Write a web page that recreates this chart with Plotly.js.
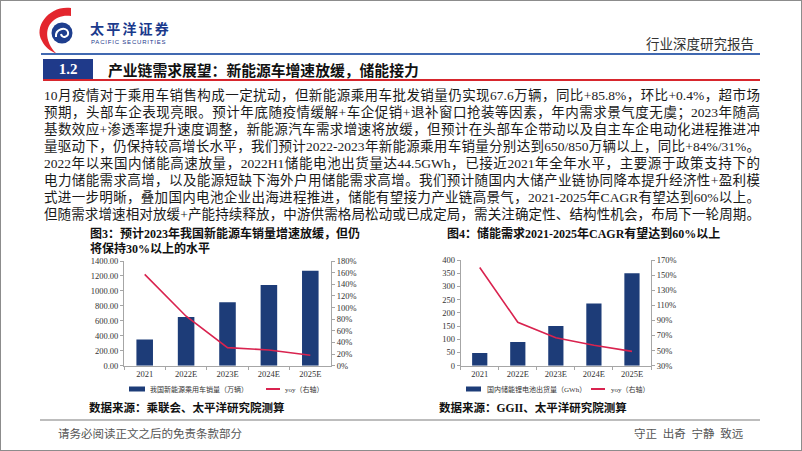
<!DOCTYPE html>
<html><head><meta charset="utf-8">
<script src="https://cdn.plot.ly/plotly-3.0.1.min.js"></script>
<style>
html,body{margin:0;padding:0;background:#fff;}
#page{position:relative;width:802px;height:451px;overflow:hidden;background:#fff;}
#chart{position:absolute;left:0;top:0;width:802px;height:451px;}
.t{position:absolute;white-space:nowrap;font-family:"Liberation Serif","Noto Sans CJK SC",serif;color:#1a1a1a;pointer-events:none;}
.p{position:absolute;left:44px;width:716px;height:17px;line-height:17px;font-size:13.5px;text-align:justify;text-align-last:justify;font-family:"Liberation Serif","Noto Sans CJK SC",serif;color:#1a1a1a;pointer-events:none;}
.ln{position:absolute;pointer-events:none;}
</style></head>
<body>
<div id="page">
<div id="chart"></div>

<svg class="ln" style="left:0;top:0" width="120" height="60">
  <path d="M71,8 C50,5 33,26 42,41 C45,47 50,51 57,54 C47,45 44,31 51,23 C56,17 63,15 71,16 Z" fill="#e3262e"/>
  <circle cx="62" cy="33" r="10.5" fill="#1e3e8e"/>
  <path d="M56,37 C55,29 66,26 68,32 C69,37 62,39 61,34" stroke="#fff" stroke-width="2" fill="none"/>
</svg>
<div class="t" style="left:90px;top:20.5px;font-size:14px;line-height:14px;height:14px;letter-spacing:2.2px;font-weight:bold;color:#1b3a8c;font-family:'Noto Sans CJK SC',sans-serif;">太平洋证券</div>
<div class="t" style="left:91px;top:38.5px;font-size:6px;line-height:6px;height:6px;color:#1b3a8c;letter-spacing:0.8px;font-family:'Liberation Sans',sans-serif;">PACIFIC SECURITIES</div>
<div class="t" style="left:646px;top:34px;font-size:13.5px;line-height:18px;color:#333;font-family:'Noto Sans CJK SC',sans-serif;">行业深度研究报告</div>

<div class="ln" style="left:41px;top:53px;width:719px;height:2px;background:#4169b1;"></div>
<div class="ln" style="left:43px;top:59px;width:50px;height:20px;background:#1f3a8a;"></div>
<div class="ln" style="left:43px;top:79px;width:717px;height:2px;background:#d7262d;"></div>
<div class="t" style="left:43px;top:59px;width:50px;text-align:center;font-size:15px;line-height:20px;font-weight:bold;color:#fff;">1.2</div>
<div class="t" style="left:108px;top:60px;font-size:14.8px;line-height:20px;font-weight:bold;color:#111;font-family:'Noto Sans CJK SC',sans-serif;">产业链需求展望：新能源车增速放缓，储能接力</div>

<div class="p" style="top:86.5px;">10月疫情对于乘用车销售构成一定扰动，但新能源乘用车批发销量仍实现67.6万辆，同比+85.8%，环比+0.4%，超市场</div>
<div class="p" style="top:103.5px;">预期，头部车企表现亮眼。预计年底随疫情缓解+车企促销+退补窗口抢装等因素，年内需求景气度无虞；2023年随高</div>
<div class="p" style="top:120.5px;">基数效应+渗透率提升速度调整，新能源汽车需求增速将放缓，但预计在头部车企带动以及自主车企电动化进程推进冲</div>
<div class="p" style="top:137.5px;">量驱动下，仍保持较高增长水平，我们预计2022-2023年新能源乘用车销量分别达到650/850万辆以上，同比+84%/31%。</div>
<div class="p" style="top:154.5px;">2022年以来国内储能高速放量，2022H1储能电池出货量达44.5GWh，已接近2021年全年水平，主要源于政策支持下的</div>
<div class="p" style="top:171.5px;">电力储能需求高增，以及能源短缺下海外户用储能需求高增。我们预计随国内大储产业链协同降本提升经济性+盈利模</div>
<div class="p" style="top:188.5px;">式进一步明晰，叠加国内电池企业出海进程推进，储能有望接力产业链高景气，2021-2025年CAGR有望达到60%以上。</div>
<div class="p" style="top:205.5px;">但随需求增速相对放缓+产能持续释放，中游供需格局松动或已成定局，需关注确定性、结构性机会，布局下一轮周期。</div>

<div class="ln" style="left:40px;top:419px;width:720px;height:1.5px;background:#bdbdbd;"></div>
<div class="t" style="left:58px;top:426px;font-size:11.5px;line-height:16px;color:#555;">请务必阅读正文之后的免责条款部分</div>
<div class="t" style="left:634px;top:426px;font-size:11.5px;line-height:16px;color:#555;">守正&ensp;出奇&ensp;宁静&ensp;致远</div>
<div class="ln" style="left:0;top:0;width:800px;height:449px;border:1px solid #8c8c8c;"></div>
</div>

<script>
// ---- data ----
const years = ['2021', '2022E', '2023E', '2024E', '2025E'];
const nevSales = [352, 650, 850, 1080, 1270];        // 我国新能源乘用车销量（万辆）
const nevYoy = [1.57, 0.85, 0.31, 0.27, 0.18];        // yoy（右轴）
const essShip = [48, 90, 150, 235, 350];              // 国内储能锂电池出货量（GWh）
const essYoy = [1.60, 0.875, 0.67, 0.57, 0.49];       // yoy（右轴）

const nevName = '我国新能源乘用车销量（万辆）';
const essName = '国内储能锂电池出货量（GWh）';
const yoyName = 'yoy（右轴）';

const F = 'Liberation Serif, Noto Sans CJK SC, serif';
const W = 802, H = 451;
const px = x => x / W, py = y => 1 - y / H;
const barColor = '#1d3c78', lineColor = '#d9234f';

const ax = {
  showline: true, linecolor: '#a6a6a6', linewidth: 1, ticks: 'outside', ticklen: 3,
  tickcolor: '#a6a6a6', showgrid: false, zeroline: false, fixedrange: true,
  tickfont: {family: F, size: 8.5, color: '#333'}
};

const traces = [
  {type: 'bar', x: years, y: nevSales, name: nevName, xaxis: 'x', yaxis: 'y', marker: {color: barColor}},
  {type: 'scatter', mode: 'lines', x: years, y: nevYoy, name: yoyName, xaxis: 'x', yaxis: 'y2', line: {color: lineColor, width: 1.6}},
  {type: 'bar', x: years, y: essShip, name: essName, xaxis: 'x2', yaxis: 'y3', marker: {color: barColor}},
  {type: 'scatter', mode: 'lines', x: years, y: essYoy, name: yoyName, xaxis: 'x2', yaxis: 'y4', line: {color: lineColor, width: 1.6}}
];

function legendShapes(x0, x1, lx0, lx1, y) {
  return [
    {type: 'rect', xref: 'paper', yref: 'paper', x0: px(x0), x1: px(x1), y0: py(y + 2.5), y1: py(y - 2.5), fillcolor: barColor, line: {width: 0}},
    {type: 'line', xref: 'paper', yref: 'paper', x0: px(lx0), x1: px(lx1), y0: py(y), y1: py(y), line: {color: lineColor, width: 2}}
  ];
}
function txt(text, x, y, size, extra) {
  return Object.assign({xref: 'paper', yref: 'paper', x: px(x), y: py(y), xanchor: 'left', yanchor: 'middle',
    showarrow: false, text: text, font: {family: F, size: size, color: '#111'}}, extra || {});
}

const layout = {
  width: W, height: H, margin: {l: 0, r: 0, t: 0, b: 0},
  paper_bgcolor: '#fff', plot_bgcolor: 'rgba(0,0,0,0)', showlegend: false, bargap: 0.6,
  xaxis: Object.assign({}, ax, {domain: [px(124), px(331)], anchor: 'y', type: 'category', tickson: 'boundaries'}),
  yaxis: Object.assign({}, ax, {domain: [py(365.7), py(261)], anchor: 'x', range: [0, 1400.01], tick0: 0, dtick: 200, tickformat: '.2f'}),
  yaxis2: Object.assign({}, ax, {overlaying: 'y', anchor: 'x', side: 'right', range: [0, 1.80001], tick0: 0, dtick: 0.2, tickformat: '.0%'}),
  xaxis2: Object.assign({}, ax, {domain: [px(460.7), px(651)], anchor: 'y3', type: 'category', tickson: 'boundaries'}),
  yaxis3: Object.assign({}, ax, {domain: [py(365.7), py(260)], anchor: 'x2', range: [0, 400.01], tick0: 0, dtick: 50}),
  yaxis4: Object.assign({}, ax, {overlaying: 'y3', anchor: 'x2', side: 'right', range: [0.29999, 1.70001], tick0: 0.3, dtick: 0.2, tickformat: '.0%'}),
  shapes: [].concat(legendShapes(129, 145, 266, 280, 389), legendShapes(466, 481, 591, 605, 389)),
  annotations: [
    txt('<b>图3：预计2023年我国新能源车销量增速放缓，但仍</b>', 88, 233, 12),
    txt('<b>将保持30%以上的水平</b>', 88, 248, 12),
    txt('<b>图4：储能需求2021-2025年CAGR有望达到60%以上</b>', 445, 233, 12),
    txt(nevName, 148, 389, 7, {font: {family: F, size: 7, color: '#333'}}),
    txt(yoyName, 283, 389, 7, {font: {family: F, size: 7, color: '#333'}}),
    txt(essName, 485, 389, 7, {font: {family: F, size: 7, color: '#333'}}),
    txt(yoyName, 609, 389, 7, {font: {family: F, size: 7, color: '#333'}}),
    txt('<b>数据来源：乘联会、太平洋研究院测算</b>', 87, 407, 11.5),
    txt('<b>数据来源：GGII、太平洋研究院测算</b>', 437, 407, 11.5)
  ]
};

Plotly.newPlot('chart', traces, layout, {staticPlot: true, displayModeBar: false});
</script>
</body></html>
